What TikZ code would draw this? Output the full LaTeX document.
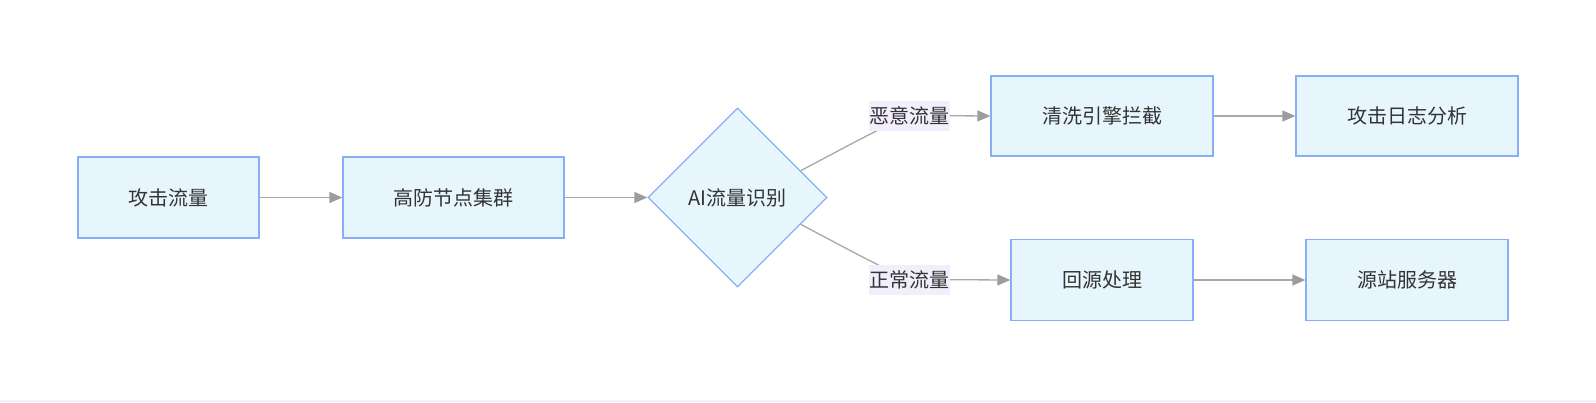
\documentclass[tikz,border=0pt]{standalone}
\usepackage{fontspec}
\setmainfont{Noto Sans CJK SC}
\usetikzlibrary{shapes.geometric,arrows.meta}
\definecolor{boxfill}{HTML}{E7F6FD}
\definecolor{boxline}{HTML}{88AEF6}
\definecolor{edgecol}{HTML}{A8A8A8}
\definecolor{tipcol}{HTML}{9C9C9C}
\definecolor{labfill}{HTML}{F3EEFB}
\definecolor{txt}{HTML}{333333}
\definecolor{bottomcol}{HTML}{F2F2FB}
\begin{document}
\begin{tikzpicture}[x=1pt,y=-1pt,
  box/.style={draw=boxline, fill=boxfill, line width=1.3pt, inner sep=0pt,
    minimum height=81pt, font=\fontsize{20}{20}\selectfont, text=txt},
  decision/.style={diamond, aspect=1, draw=boxline, fill=boxfill, line width=1.3pt,
    inner sep=0pt, minimum width=179pt, minimum height=179pt,
    font=\fontsize{20}{20}\selectfont, text=txt},
  edgelab/.style={fill=labfill, inner sep=0pt, minimum width=81pt, minimum height=30pt,
    font=\fontsize{20}{20}\selectfont, text=txt},
  flow/.style={draw=edgecol, line width=1.3pt,
    -{Triangle[length=13pt,width=11pt,fill=tipcol,color=tipcol]}},
  plain/.style={draw=edgecol, line width=1.3pt}
]
\useasboundingbox (0,0) rectangle (1596,402);
\draw[draw=bottomcol, line width=1.5pt] (0,400.8) -- (1596,400.8);

\node[box, minimum width=181pt] (b1) at (168.5,197.5) {攻击流量};
\node[box, minimum width=221pt] (b2) at (453.5,197.5) {高防节点集群};
\node[decision] (dia) at (737.5,197.5) {AI流量识别};
\node[box, minimum width=222pt, minimum height=80pt] (b3) at (1102,116) {清洗引擎拦截};
\node[box, minimum width=222pt, minimum height=80pt] (b4) at (1407,116) {攻击日志分析};
\node[box, minimum width=182pt] (b5) at (1102,280) {回源处理};
\node[box, minimum width=202pt] (b6) at (1407,280) {源站服务器};

\coordinate (l1) at (909,115.5);
\coordinate (l2) at (909,279.5);

\draw[flow] (b1) -- (b2);
\draw[flow] (b2.east) -- (dia.west);
\draw[plain] (dia.23) .. controls (840,150) and (880,128) .. (l1);
\draw[flow] (l1) -- (b3.west);
\draw[plain] (dia.-23) .. controls (840,245) and (880,267) .. (l2);
\draw[flow] (l2) -- (b5.west);
\draw[flow] (b3) -- (b4);
\draw[flow] (b5) -- (b6);

\node[edgelab] (lab1) at (l1) {恶意流量};
\node[edgelab] (lab2) at (l2) {正常流量};
\end{tikzpicture}
\end{document}
